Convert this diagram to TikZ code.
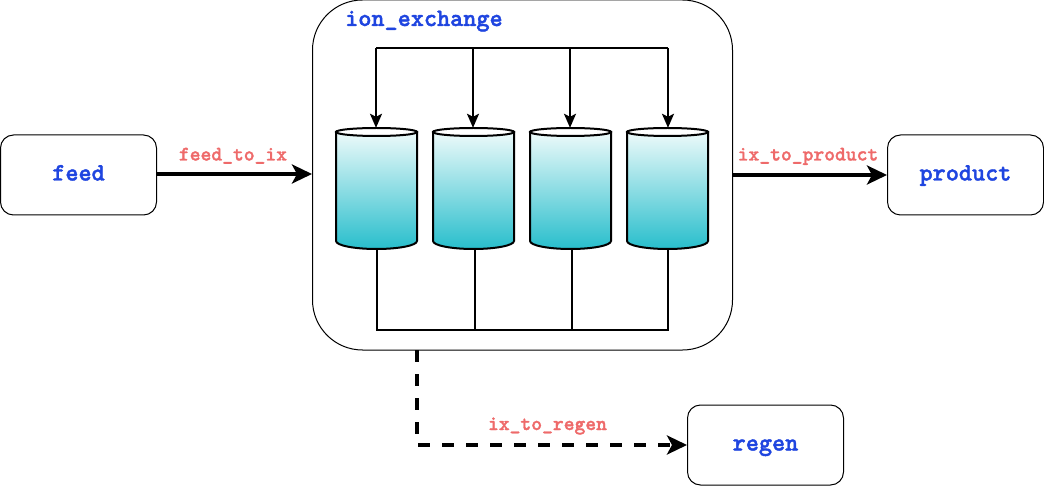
\documentclass[tikz,border=0pt]{standalone}
\usepackage{fontspec}
\newfontfamily\heavymono[Extension=.otf,FakeBold=1.6]{lmmonolt10-bold}
\usetikzlibrary{arrows.meta}
\definecolor{nodeblue}{HTML}{1F45E0}
\definecolor{labelred}{HTML}{EE6A6A}
\definecolor{cyltop}{HTML}{EDFAFA}
\definecolor{cylbot}{HTML}{28BECC}
\tikzset{
  unitbox/.style={draw=black,line width=1pt,rounded corners=13pt,minimum width=156pt,minimum height=80pt,inner sep=0pt,fill=white,
    text height=11pt,text depth=0pt,
    font=\heavymono\fontsize{25}{27}\selectfont,text=nodeblue},
  container/.style={draw=black,line width=1pt,rounded corners=50pt,minimum width=420pt,minimum height=350pt,inner sep=0pt,fill=white},
  title/.style={font=\heavymono\fontsize{25}{27}\selectfont,text=nodeblue,inner sep=0pt,anchor=base west},
  streamlabel/.style={font=\heavymono\fontsize{20.6}{22}\selectfont,text=labelred,inner sep=0pt,anchor=base},
  stream/.style={line width=3.6pt,-{Stealth[length=20pt,width=19pt,inset=5pt]}},
  inner/.style={line width=2pt,black},
  innerarrow/.style={inner,-{Stealth[length=14pt,width=12pt,inset=3pt]}},
  cylbody/.style={draw=black,line width=2pt,top color=cyltop,bottom color=cylbot,shading angle=0},
  cyllid/.style={draw=black,line width=2pt,fill=white},
  cylanchor/.style={minimum width=81pt,minimum height=121pt,inner sep=0pt},
}
\begin{document}
\begin{tikzpicture}[x=1pt,y=-1pt]
\useasboundingbox (0,0) rectangle (1044,486);
\node[unitbox] (feed) at (78.5,175) {feed};
\node[unitbox] (product) at (965.5,175) {product};
\node[unitbox] (regen) at (765.5,445) {regen};
\node[container] (ix) at (522.5,175) {};
\node[title] (ixtitle) at (345,26) {ion\_exchange};
\foreach \n/\cx in {1/376.5,2/473.5,3/570.5,4/667.5}{
  \node[cylanchor] (cyl\n) at (\cx,188.5) {};
  \draw[cylbody] (\cx-40.5,132) -- (\cx-40.5,241) arc[start angle=180,end angle=360,x radius=40.5,y radius=-8] -- (\cx+40.5,132) -- cycle;
  \draw[cyllid] (\cx,132) ellipse[x radius=40.5,y radius=4];
}
% top manifold
\coordinate (t1) at (376,48);
\coordinate (t2) at (473,48);
\coordinate (t3) at (570,48);
\coordinate (t4) at (668,48);
\draw[inner,line join=miter] (t1) -- (t4);
\draw[innerarrow] (t1) -- (cyl1.north -| t1);
\draw[innerarrow] (t2) -- (cyl2.north -| t2);
\draw[innerarrow] (t3) -- (cyl3.north -| t3);
\draw[innerarrow] (t4) -- (cyl4.north -| t4);
% bottom manifold
\coordinate (b1) at (376,330);
\coordinate (b4) at (669,330);
\draw[inner] (b1) -- (b4);
\draw[inner] (377,249) -- (377,330);
\draw[inner] (475,249) -- (475,330);
\draw[inner] (572,249) -- (572,330);
\draw[inner] (668,249) -- (668,330);
% streams
\draw[stream] (feed.east |- 0,174) -- (ix.west |- 0,174);
\draw[stream] (ix.east) -- (product.west);
\coordinate (turn) at (417,445);
\draw[stream,dash pattern=on 12pt off 12pt,line width=3.6pt] (417,350) -- (turn) -- (regen.west);
\node[streamlabel] (l1) at (233,160.5) {feed\_to\_ix};
\node[streamlabel] (l2) at (808,160.5) {ix\_to\_product};
\node[streamlabel] (l3) at (547.5,430) {ix\_to\_regen};
\end{tikzpicture}
\end{document}
